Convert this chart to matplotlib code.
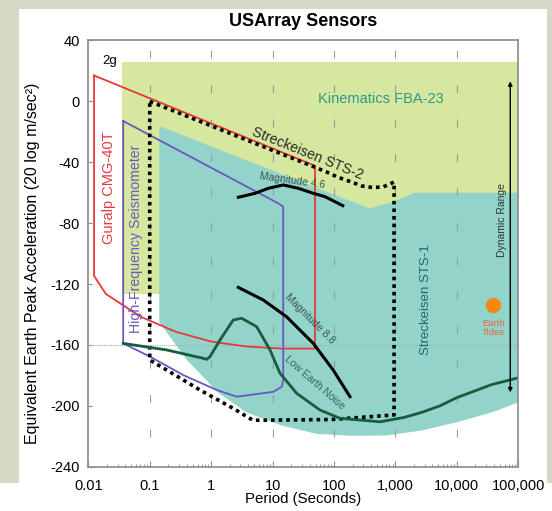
import numpy as np
import matplotlib
matplotlib.use("Agg")
import matplotlib.pyplot as plt
from matplotlib.patches import Rectangle

plt.rcParams['font.family'] = ['Liberation Sans', 'DejaVu Sans']
plt.rcParams['axes.unicode_minus'] = False

# --- data (period in s, level in dB) ---
fba_x = [0.036, 100000, 100000, 0.036]
fba_y = [26, 26, -126.5, -126.5]

sts1_x = [0.143, 0.143, 0.40, 1.3, 3.73, 13.9, 51.8, 193, 720, 2680, 10000, 37300, 100000,
          100000, 2060, 936, 373, 0.15]
sts1_y = [-17, -145, -169.7, -191.4, -204.3, -212.9, -218.4, -219.7, -219.5, -216.2, -210.8, -204.3, -197.8,
          -60, -60, -65.9, -70.3, -16.5]

sts2_x = [0.1, 48.5, 76.9, 114, 193, 286, 425, 631, 950, 950, 90, 4.8, 2.29, 0.657, 0.189, 0.1, 0.1]
sts2_y = [0, -43.2, -46.5, -49.7, -53, -55.6, -56.6, -56.2, -53, -206, -209, -209.5, -201.7, -189.6, -176.5, -169.9, 0]

guralp_x = [0.0124, 0.0124, 0.0193, 0.072, 0.268, 1.0, 3.73, 13.9, 49, 49, 0.0124]
guralp_y = [17, -114.6, -126.5, -141.6, -151.4, -157.8, -161, -162.4, -162.4, -42.3, 17]

hf_x = [0.037, 0.037, 0.101, 0.352, 1.23, 2.61, 10.3, 14.1, 14.9, 14.9, 12.4, 0.037]
hf_y = [-12.9, -159, -167.7, -179.8, -189.6, -194, -190.8, -187.5, -183, -69.2, -67, -12.9]

noise_x = [0.037, 0.189, 0.744, 0.845, 0.957, 1.39, 2.29, 3.14, 5.5, 9.08, 13.2, 24.7, 59.2, 125,
           560, 1390, 2680, 5310, 10000, 37300, 100000]
noise_y = [-159, -163.3, -168.8, -169.5, -167.7, -156.8, -143.6, -142.5, -148, -163.3, -178.6, -191.8, -202.8, -208.2,
           -210.5, -207.6, -204.3, -200, -194.6, -186, -181.6]

m46_x = [2.77, 5.17, 8.52, 14.9, 26.2, 46, 71.3, 139]
m46_y = [-63, -60.4, -57.1, -54.9, -57.1, -60.4, -62.6, -68.5]

m88_x = [2.77, 7.06, 16.9, 46, 97, 182]
m88_y = [-122.2, -130.5, -141.5, -159, -176.5, -194]

tides_x, tides_y = 39200, -133.8
range_x, range_top, range_bottom = 74000, 15, -193

xtick_vals = [0.01, 0.1, 1, 10, 100, 1000, 10000, 100000]
xtick_labels = ['0.01', '0.1', '1', '10', '100', '1,000', '10,000', '100,000']
ytick_vals = [40, 0, -40, -80, -120, -160, -200, -240]

# colours
yellow = '#d6e79f'
teal = '#92d4ca'
red = '#e5393b'
purple = '#6e56bf'
green = '#175c3e'
frame = '#d6d9c5'

fig = plt.figure(figsize=(5.52, 5.11), dpi=100)
fig.patch.set_facecolor(frame)
fig.patches.append(Rectangle((19 / 552, 0), 528 / 552, 1 - 8.8 / 511, transform=fig.transFigure,
                             facecolor='white', edgecolor='none', zorder=-10))
fig.patches.append(Rectangle((0, 0), 1, 1 - 482.7 / 511, transform=fig.transFigure,
                             facecolor='white', edgecolor='none', zorder=-10))

ax = fig.add_axes([88.3 / 552, 1 - 466.7 / 511, 430 / 552, 426.2 / 511])
ax.set_xscale('log')
ax.set_xlim(0.01, 100000)
ax.set_ylim(-240, 40)
ax.set_facecolor('white')

ax.fill(fba_x, fba_y, color=yellow, lw=0, zorder=1)
ax.fill(sts1_x, sts1_y, color=teal, lw=0, zorder=2)

# grid
for v in xtick_vals[1:-1]:
    ax.axvline(v, color='#9a9a9a', lw=0.8, ls=(4, (7, 24)), zorder=3)
ax.axhline(-160, color='#a8a8a8', lw=0.8, ls=(0, (1, 1)), zorder=3)

ax.plot(guralp_x, guralp_y, color=red, lw=1.3, zorder=4)
ax.plot(hf_x, hf_y, color=purple, lw=1.3, zorder=4)
ax.plot(sts2_x, sts2_y, color='black', lw=2.6, ls=(0, (1, 1.1)), dash_capstyle='butt', zorder=5)
ax.plot(noise_x, noise_y, color=green, lw=2.0, zorder=6)
ax.plot(m46_x, m46_y, color='black', lw=2.2, zorder=6)
ax.plot(m88_x, m88_y, color='black', lw=2.2, zorder=6)

ax.plot(tides_x, tides_y, 'o', color='#f5890f', ms=10, zorder=7)
ax.text(tides_x, -149, 'Earth\nTides', color='#e8693c', fontsize=6.8, ha='center', va='center',
        linespacing=1.0, zorder=7)

ax.annotate('', xy=(range_x, range_top), xytext=(range_x, range_bottom),
            arrowprops=dict(arrowstyle='<|-|>', color='black', lw=1.0, mutation_scale=6), zorder=7)
ax.text(55000, -78, 'Dynamic Range', rotation=90, fontsize=7.5, ha='center', va='center',
        color='#333333', zorder=7)

# labels on the chart
ax.text(0.0226, 26.5, '2g', fontsize=9.5, ha='center', va='center', zorder=7)
ax.text(590, 1.5, 'Kinematics FBA-23', fontsize=10.5, color='#2d9a8a', ha='center', va='center', zorder=7)
ax.text(37, -34.5, 'Streckeisen STS-2', fontsize=10.2, color='#2a2a2a', rotation=-22,
        ha='center', va='center', rotation_mode='anchor', zorder=7)
ax.text(0.022, -57, 'Guralp CMG-40T', fontsize=10.5, color=red, rotation=90, ha='center', va='center', zorder=7)
ax.text(0.059, -90, 'High-Frequency Seismometer', fontsize=10.2, color=purple, rotation=90,
        ha='center', va='center', zorder=7)
ax.text(3200, -130.5, 'Streckeisen STS-1', fontsize=9.5, color='#1d6b63', rotation=90,
        ha='center', va='center', zorder=7)
ax.text(21, -52, 'Magnitude 4.6', fontsize=7.5, color='#3b5552', rotation=-8,
        ha='center', va='center', rotation_mode='anchor', zorder=7)
ax.text(40, -143, 'Magnitude 8.8', fontsize=7.5, color='#3b5552', rotation=-45,
        ha='center', va='center', rotation_mode='anchor', zorder=7)
ax.text(48, -184.5, 'Low Earth Noise', fontsize=7.5, color='#2f6a5e', rotation=-41,
        ha='center', va='center', rotation_mode='anchor', zorder=7)

# axes styling
for s in ax.spines.values():
    s.set_color('#8a8a8a')
    s.set_linewidth(1.2)
    s.set_zorder(8)
ax.set_xticks(xtick_vals)
ax.set_xticklabels(xtick_labels)
ax.set_yticks(ytick_vals)
ax.tick_params(axis='x', which='major', direction='in', length=4, color='#8a8a8a', labelsize=10.5, pad=9)
ax.tick_params(axis='x', which='minor', direction='in', length=2.5, color='#8a8a8a')
ax.tick_params(axis='y', direction='in', length=3, color='#8a8a8a', labelsize=10.5, pad=6)
ax.tick_params(top=False, right=False)

ax.set_xlabel('Period (Seconds)', fontsize=10.8)
ax.xaxis.set_label_coords(0.5, -0.06)
ax.set_ylabel('Equivalent Earth Peak Acceleration (20 log m/sec\u00b2)', fontsize=11.5)
ax.yaxis.set_label_coords(-0.113, 0.478)

fig.text(303.3 / 552, 1 - 21 / 511, 'USArray Sensors', fontsize=13, weight='bold',
         ha='center', va='center')

fig.savefig('out.png', dpi=100, facecolor=fig.get_facecolor())
